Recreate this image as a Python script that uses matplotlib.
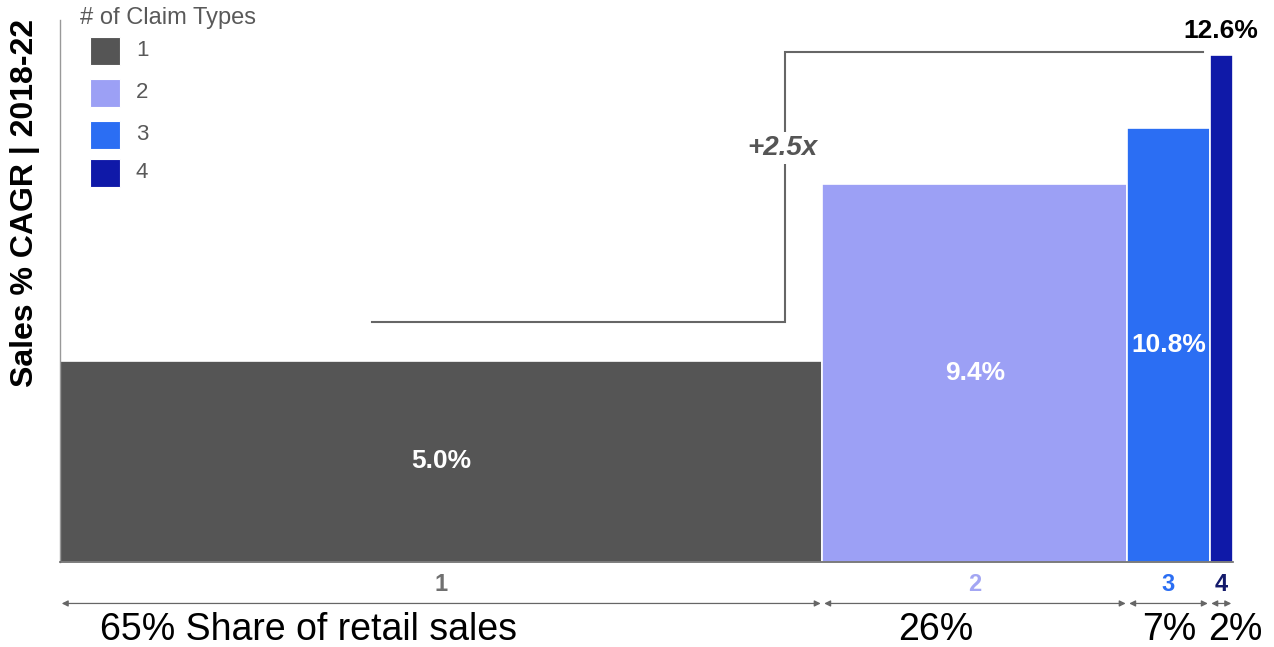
import matplotlib
matplotlib.use("Agg")
import matplotlib.pyplot as plt
from matplotlib.patches import Rectangle
from matplotlib.transforms import blended_transform_factory
import numpy as np

plt.rcParams['font.family'] = ['Liberation Sans', 'DejaVu Sans']

categories = ["1", "2", "3", "4"]
shares = [65, 26, 7, 2]            # % share of retail sales (bar widths)
cagr = [5.0, 9.4, 10.8, 12.6]      # Sales % CAGR 2018-22 (bar heights)
share_labels = ["65% Share of retail sales", "26%", "7%", "2%"]
bar_colors = ["#555555", "#9ca0f5", "#2b6ef3", "#0f19a8"]
cat_label_colors = ["#707070", "#a3a6f3", "#2b6ef3", "#141a6b"]
multiple_label = "+2.5x"

W, H = 1274, 647
fig = plt.figure(figsize=(W / 100, H / 100), dpi=100)
ax_l, ax_r, ax_t, ax_b = 60, 1233, 20, 562
ax = fig.add_axes([ax_l / W, (H - ax_b) / H, (ax_r - ax_l) / W, (ax_b - ax_t) / H])

lefts = np.concatenate([[0], np.cumsum(shares)[:-1]])
centers = lefts + np.array(shares) / 2
ax.bar(lefts, cagr, width=shares, align='edge', color=bar_colors,
       edgecolor='white', linewidth=1.2)
ax.set_xlim(0, sum(shares))
ax.set_ylim(0, 13.48)

for s in ['top', 'right']:
    ax.spines[s].set_visible(False)
ax.spines['left'].set_color('#999999')
ax.spines['left'].set_linewidth(1)
ax.spines['bottom'].set_color('#666666')
ax.spines['bottom'].set_linewidth(1.2)
ax.set_xticks([])
ax.set_yticks([])

# bar value labels
for i, (c, v) in enumerate(zip(centers, cagr)):
    if i < 3:
        ax.text(c, v / 2, f"{v:.1f}%", ha='center', va='center', color='white',
                fontsize=19, fontweight='bold')
    else:
        ax.text(c, v + 0.3, f"{v:.1f}%", ha='center', va='bottom', color='black',
                fontsize=19, fontweight='bold')

# bracket
lo_y, hi_y = 5.97, 12.69
x_start, x_mid, x_end = 26.6, 61.8, 97.4
ax.plot([x_start, x_mid, x_mid, x_end], [lo_y, lo_y, hi_y, hi_y],
        color='#666666', lw=1.5, solid_joinstyle='miter', clip_on=False)
ax.text(x_mid - 0.2, 10.3, multiple_label, ha='center', va='center', color='#555555',
        fontsize=20, fontweight='bold', fontstyle='italic',
        bbox=dict(facecolor='white', edgecolor='none', pad=2))

# bottom labels and arrows
trans = blended_transform_factory(ax.transData, ax.transAxes)
for i, (l, s, c) in enumerate(zip(lefts, shares, centers)):
    ax.text(c, -0.042, categories[i], transform=trans, ha='center', va='center',
            color=cat_label_colors[i], fontsize=17, fontweight='bold')
    ax.annotate('', xy=(l + 0.15, -0.0765), xytext=(l + s - 0.15, -0.0765),
                xycoords=trans, textcoords=trans,
                arrowprops=dict(arrowstyle='<|-|>', color='#666666', lw=0.9,
                                mutation_scale=9, shrinkA=0, shrinkB=0),
                annotation_clip=False)

text_x = [3.4, 74.7, 94.6, 100.2]
text_ha = ['left', 'center', 'center', 'center']
for lab, x, ha in zip(share_labels, text_x, text_ha):
    ax.text(x, -0.126, lab, transform=trans, ha=ha, va='center',
            color='black', fontsize=27)

# y label
fig.text(25 / W, 1 - 203 / H, "Sales % CAGR | 2018-22", rotation=90,
         ha='center', va='center', fontsize=23, fontweight='bold', color='black')

# legend
fig.text(80 / W, 1 - 18 / H, "# of Claim Types", ha='left', va='center',
         fontsize=17, color='#595959')
sq_y = [37, 79, 121, 159]
for y, col, lab in zip(sq_y, bar_colors, categories):
    fig.patches.append(Rectangle((90 / W, 1 - (y + 28) / H), 30 / W, 28 / H,
                                 transform=fig.transFigure, facecolor=col,
                                 edgecolor='white', lw=0.8, figure=fig))
    fig.text(136 / W, 1 - (y + 14) / H, lab, ha='left', va='center',
             fontsize=16, color='#595959')

fig.savefig("out.png", dpi=100)
